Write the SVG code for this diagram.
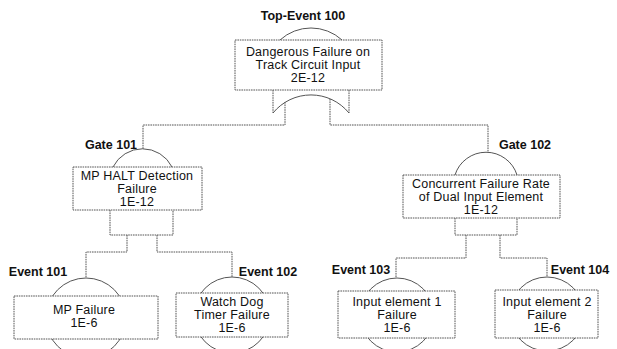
<svg xmlns="http://www.w3.org/2000/svg" width="617" height="349" viewBox="0 0 617 349">
<style>
.ln{fill:none;stroke:#555;stroke-width:1;stroke-dasharray:1.6 0.8}
.bx{fill:#fff;stroke:#555;stroke-width:1;stroke-dasharray:1.6 0.8}
.arc{fill:none;stroke:#555;stroke-width:1}
.ci{fill:#fff;stroke:#555;stroke-width:1}
.lb{font-family:"Liberation Sans",Arial,sans-serif;font-weight:bold;font-size:12.5px;fill:#111}
.tx{font-family:"Liberation Sans",Arial,sans-serif;font-size:12.5px;letter-spacing:0.2px;fill:#111;text-anchor:middle}
</style>
<rect width="617" height="349" fill="#fff"/>
<g id="connectors">
<path class="ln" d="M273,90 V113 M349,90 V113"/>
<path class="arc" d="M273,113 A49,49 0 0 1 349,113"/>
<path class="ln" d="M285,102 V125 H143 V149"/>
<path class="ln" d="M330,99 V125 H488 V152"/>
<path class="ln" d="M110,210 V235 H173 V210"/>
<path class="ln" d="M127,235 V252 H86 V278"/>
<path class="ln" d="M157,235 V252 H232 V277"/>
<path class="ln" d="M455,218 V235 H517 V218"/>
<path class="ln" d="M466,235 V258 H396 V278"/>
<path class="ln" d="M500,235 V258 H547 V277"/>
</g>
<g id="top-event">
<text class="lb" x="303" y="20" text-anchor="middle">Top-Event 100</text>
<path class="arc" d="M280,40 A46,46 0 0 1 342,40"/>
<rect class="bx" x="235" y="40" width="147" height="50"/>
<text class="tx" x="308" y="56">Dangerous Failure on</text>
<text class="tx" x="308" y="69">Track Circuit Input</text>
<text class="tx" x="308" y="82">2E-12</text>
</g>
<g id="gate-101">
<text class="lb" x="111" y="149" text-anchor="middle">Gate 101</text>
<path class="arc" d="M113,167 A33,33 0 0 1 172,167"/>
<rect class="bx" x="73" y="167" width="129" height="43"/>
<text class="tx" x="137" y="180">MP HALT Detection</text>
<text class="tx" x="137" y="193">Failure</text>
<text class="tx" x="137" y="206">1E-12</text>
</g>
<g id="gate-102">
<text class="lb" x="525" y="149" text-anchor="middle">Gate 102</text>
<path class="arc" d="M455,175 A32.5,32.5 0 0 1 517,175"/>
<rect class="bx" x="403" y="175" width="157" height="43"/>
<text class="tx" x="481" y="188">Concurrent Failure Rate</text>
<text class="tx" x="481" y="201">of Dual Input Element</text>
<text class="tx" x="481" y="214">1E-12</text>
</g>
<g id="event-101">
<text class="lb" x="38" y="276" text-anchor="middle">Event 101</text>
<circle class="ci" cx="86" cy="318" r="40"/>
<rect class="bx" x="14" y="296" width="144" height="43"/>
<text class="tx" x="84" y="314">MP Failure</text>
<text class="tx" x="84" y="327">1E-6</text>
</g>
<g id="event-102">
<text class="lb" x="268" y="276" text-anchor="middle">Event 102</text>
<circle class="ci" cx="232" cy="315" r="38"/>
<rect class="bx" x="176" y="293" width="112" height="44"/>
<text class="tx" x="232" y="306">Watch Dog</text>
<text class="tx" x="232" y="319">Timer Failure</text>
<text class="tx" x="232" y="332">1E-6</text>
</g>
<g id="event-103">
<text class="lb" x="361" y="274" text-anchor="middle">Event 103</text>
<circle class="ci" cx="397" cy="315" r="37"/>
<rect class="bx" x="338" y="291" width="117" height="47"/>
<text class="tx" x="397" y="306">Input element 1</text>
<text class="tx" x="397" y="319">Failure</text>
<text class="tx" x="397" y="332">1E-6</text>
</g>
<g id="event-104">
<text class="lb" x="580" y="274" text-anchor="middle">Event 104</text>
<circle class="ci" cx="547" cy="314" r="37"/>
<rect class="bx" x="495" y="290" width="103" height="48"/>
<text class="tx" x="547" y="306">Input element 2</text>
<text class="tx" x="547" y="319">Failure</text>
<text class="tx" x="547" y="332">1E-6</text>
</g>
</svg>
